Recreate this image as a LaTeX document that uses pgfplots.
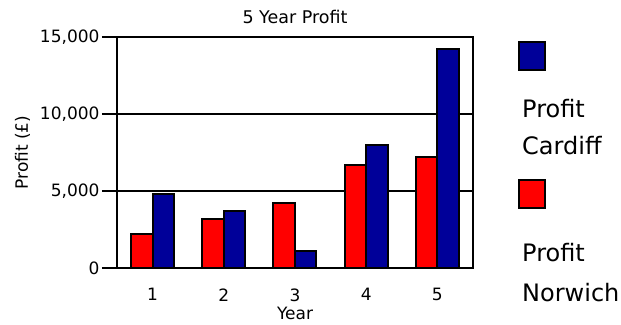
\documentclass[border=0pt]{standalone}
\usepackage{pgfplots}
\pgfplotsset{compat=1.18}
\usepackage{fontspec}
\setmainfont{DejaVu Sans}
\definecolor{bred}{RGB}{255,0,0}
\definecolor{bblue}{RGB}{0,0,153}
\begin{document}
\begin{tikzpicture}
\begin{axis}[name=ax, scale only axis, width=356pt, height=231pt,
  ybar=0pt, bar width=21.5pt,
  xmin=0.5, xmax=5.5, ymin=0, ymax=15000,
  xtick={1,2,3,4,5},
  ytick={0,5000,10000,15000},
  yticklabels={0,{5,000},{10,000},{15,000}},
  scaled y ticks=false,
  /pgf/number format/assume math mode=true,
  ymajorgrids, grid style={black, line width=2.4pt},
  axis line style={line width=2.4pt},
  ytick pos=left, tick align=outside,
  major tick length=15pt,
  ytick style={black, line width=2.4pt},
  xtick style={draw=none},
  yticklabel style={font=\fontsize{17}{19}\selectfont, xshift=1pt},
  xticklabel style={font=\fontsize{17}{19}\selectfont, yshift=-2pt},
  title={5 Year Profit},
  title style={font=\fontsize{17.5}{19}\selectfont, yshift=4pt},
  xlabel={Year}, ylabel={Profit (£)},
  xlabel style={font=\fontsize{17}{19}\selectfont, yshift=1pt},
  ylabel style={font=\fontsize{17}{19}\selectfont, yshift=3pt},
  every axis plot/.append style={draw=black, line width=2pt},
]
\addplot[fill=bred] coordinates {(1,2200) (2,3200) (3,4200) (4,6700) (5,7200)};
\addplot[fill=bblue] coordinates {(1,4800) (2,3700) (3,1100) (4,8000) (5,14200)};
\end{axis}
\draw[fill=bblue, line width=2pt] ([shift={(46pt,-5pt)}]ax.north east) rectangle ([shift={(72pt,-33pt)}]ax.north east);
\draw[fill=bred, line width=2pt] ([shift={(46pt,-143pt)}]ax.north east) rectangle ([shift={(72pt,-171pt)}]ax.north east);
\node[anchor=base west, inner sep=0pt, font=\fontsize{24}{28}\selectfont] at ([shift={(49pt,-81pt)}]ax.north east) {Profit};
\node[anchor=base west, inner sep=0pt, font=\fontsize{24}{28}\selectfont] at ([shift={(49pt,-118pt)}]ax.north east) {Cardiff};
\node[anchor=base west, inner sep=0pt, font=\fontsize{24}{28}\selectfont] at ([shift={(49pt,-225pt)}]ax.north east) {Profit};
\node[anchor=base west, inner sep=0pt, font=\fontsize{24}{28}\selectfont] at ([shift={(49pt,-265pt)}]ax.north east) {Norwich};
\pgfresetboundingbox
\path[use as bounding box] ([shift={(-117pt,-57pt)}]ax.south west) rectangle ([shift={(148pt,37pt)}]ax.north east);
\end{tikzpicture}
\end{document}
